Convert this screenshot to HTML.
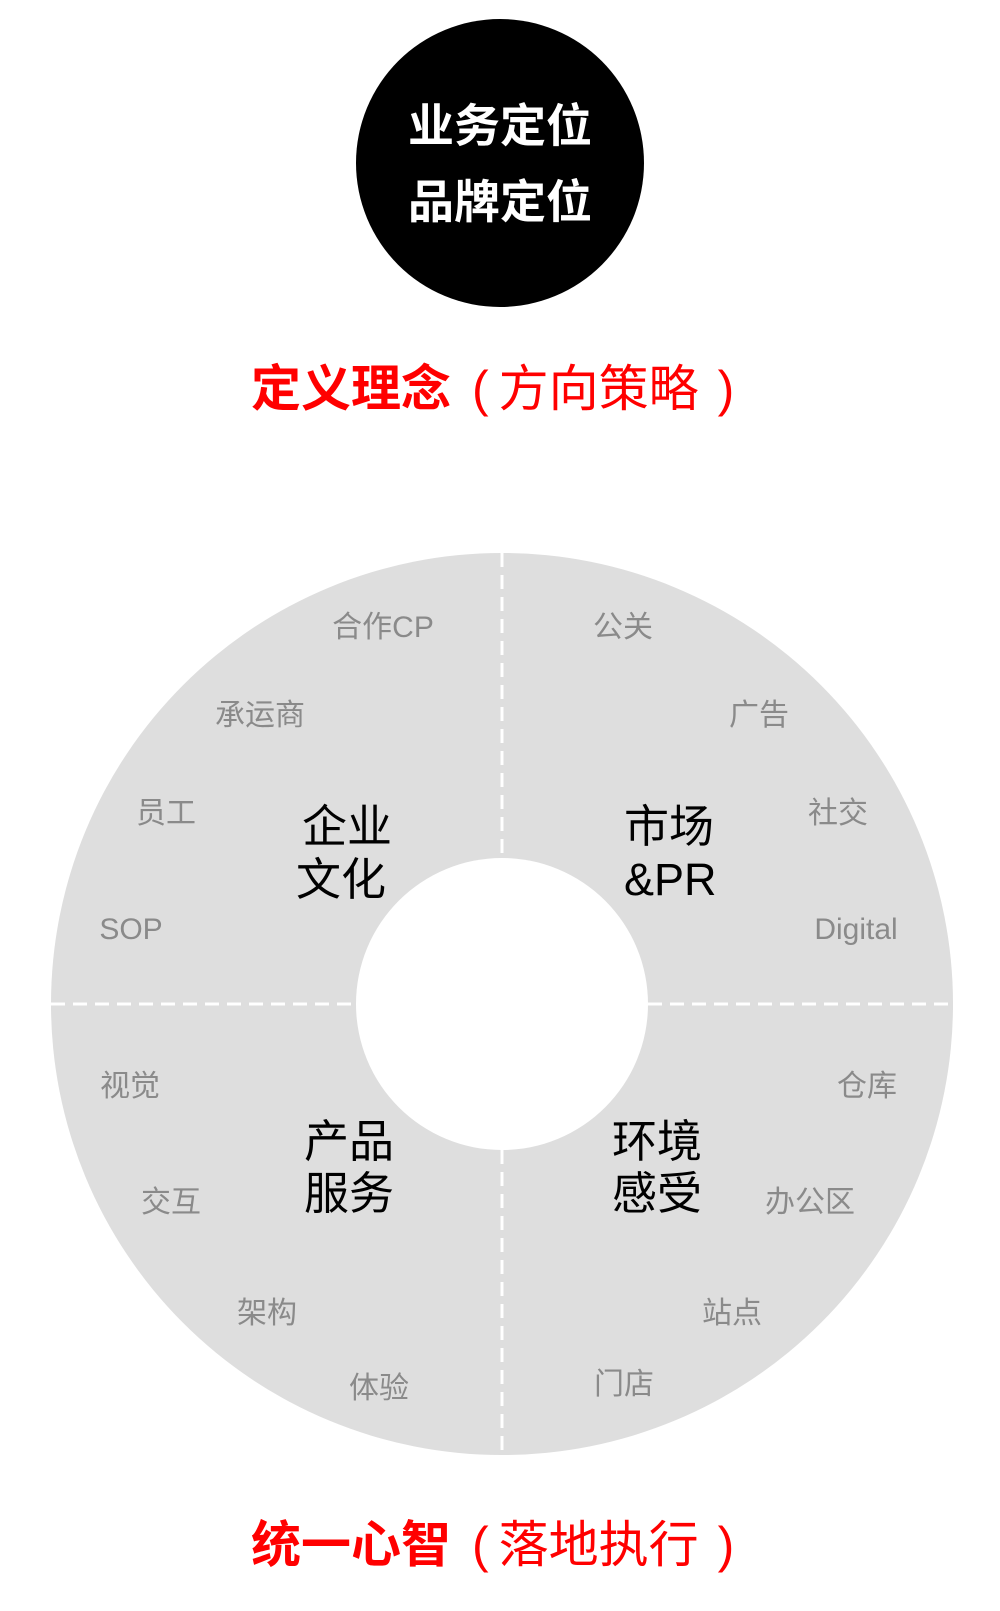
<!DOCTYPE html>
<html><head><meta charset="utf-8"><style>
html,body{margin:0;padding:0;background:#fff;}
svg{display:block;}
</style></head><body>
<svg width="1000" height="1611" viewBox="0 0 1000 1611" xmlns="http://www.w3.org/2000/svg" font-family="'Liberation Sans','Noto Sans CJK SC',sans-serif">
<circle cx="500" cy="163" r="144" fill="#000"/>
<text x="500" y="142" font-size="46" font-weight="bold" fill="#fff" text-anchor="middle">业务定位</text>
<text x="500" y="218" font-size="46" font-weight="bold" fill="#fff" text-anchor="middle">品牌定位</text>
<text x="251" y="406" font-size="50" fill="#f00"><tspan font-weight="bold">定义理念</tspan><tspan dx="21" font-weight="normal">(</tspan><tspan dx="10">方向策略</tspan><tspan dx="19">)</tspan></text>

<circle cx="502" cy="1004" r="451" fill="#dedede"/>
<circle cx="502" cy="1004" r="146" fill="#fff"/>
<g stroke="#fff" stroke-width="3" stroke-dasharray="14 8">
<line x1="502" y1="553" x2="502" y2="858"/>
<line x1="502" y1="1150" x2="502" y2="1455"/>
<line x1="51" y1="1004" x2="356" y2="1004"/>
<line x1="648" y1="1004" x2="953" y2="1004"/>
</g>
<g font-size="30" fill="#8a8a8a" text-anchor="middle">
<text x="383" y="637">合作CP</text>
<text x="260" y="725">承运商</text>
<text x="166" y="823">员工</text>
<text x="131" y="939">SOP</text>
<text x="623" y="637">公关</text>
<text x="759" y="725">广告</text>
<text x="838" y="823">社交</text>
<text x="856" y="939">Digital</text>
<text x="130" y="1096">视觉</text>
<text x="171" y="1212">交互</text>
<text x="267" y="1323">架构</text>
<text x="379" y="1398">体验</text>
<text x="867" y="1096">仓库</text>
<text x="810" y="1212">办公区</text>
<text x="732" y="1323">站点</text>
<text x="624" y="1394">门店</text>
</g>
<g font-size="45" fill="#000">
<text x="347" y="842" text-anchor="middle">企业</text>
<text x="341" y="895" text-anchor="middle">文化</text>
<text x="624" y="842">市场</text>
<text x="624" y="895">&amp;PR</text>
<text x="349" y="1157" text-anchor="middle">产品</text>
<text x="349" y="1209" text-anchor="middle">服务</text>
<text x="612" y="1157">环境</text>
<text x="612" y="1209">感受</text>
</g>
<text x="251" y="1562" font-size="50" fill="#f00"><tspan font-weight="bold">统一心智</tspan><tspan dx="21" font-weight="normal">(</tspan><tspan dx="10">落地执行</tspan><tspan dx="19">)</tspan></text>
</svg>
</body></html>
